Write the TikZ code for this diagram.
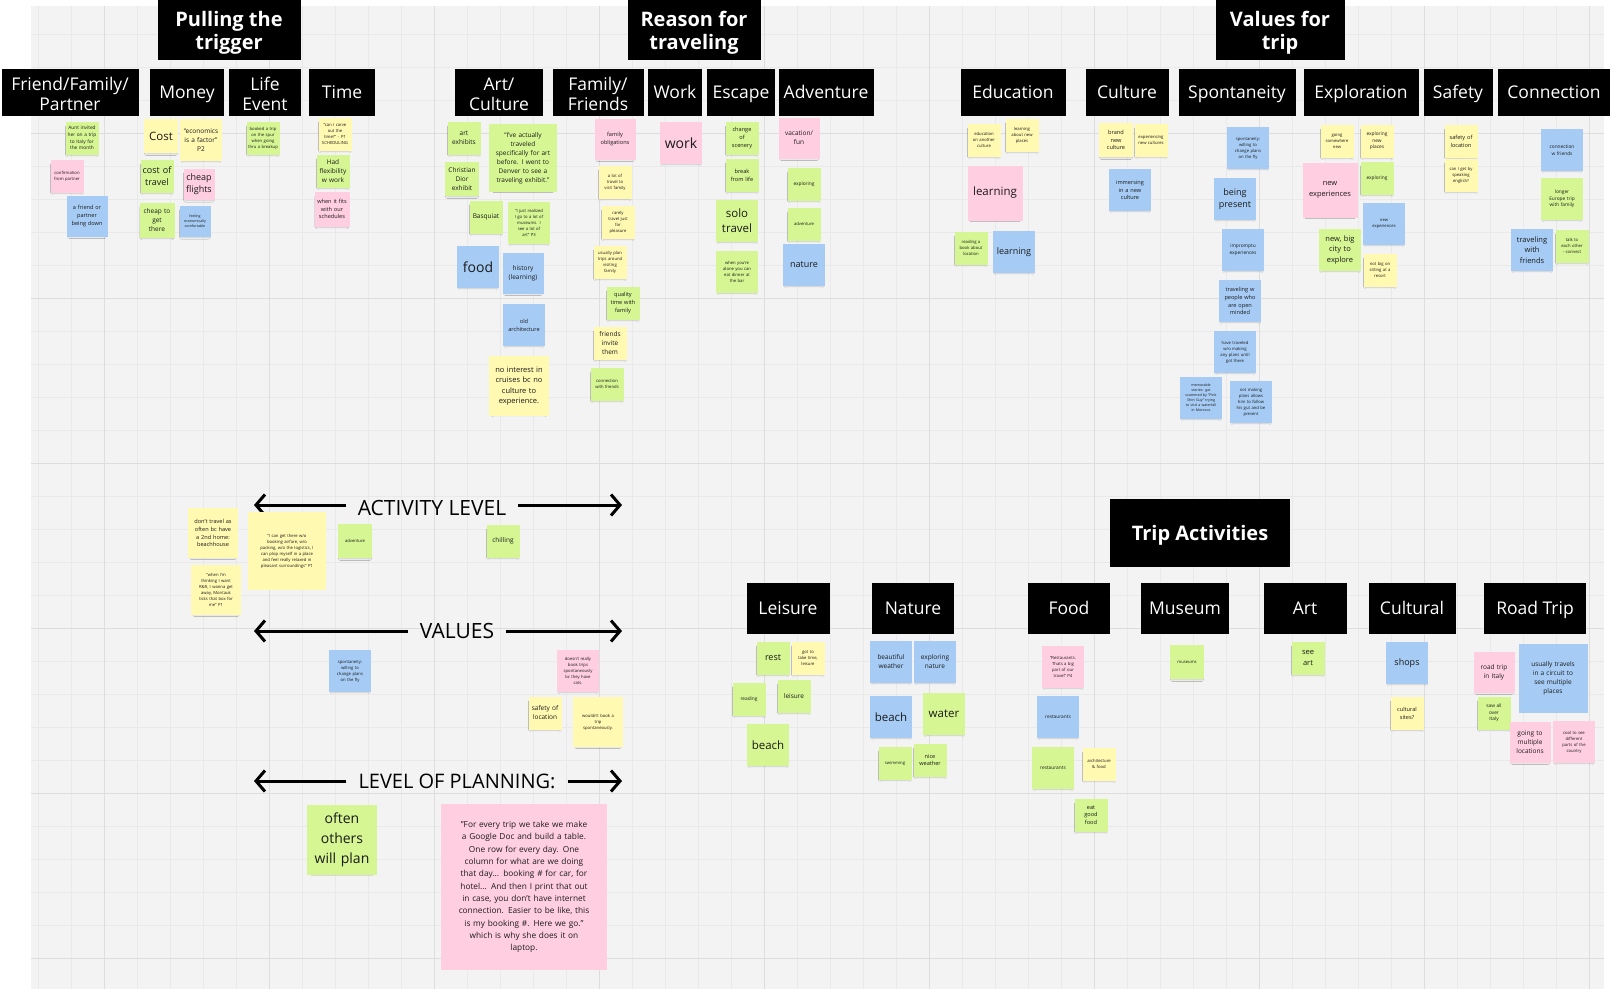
\documentclass[tikz,border=0pt]{standalone}
\usepackage{fontspec}
\setmainfont{Open Sans}
\usepackage{xcolor}
\usepackage{tikz}
\usetikzlibrary{arrows.meta, shadows.blur}
\definecolor{canvasbg}{HTML}{F3F3F3}
\definecolor{gridminor}{HTML}{E9E9E9}
\definecolor{gridmajor}{HTML}{DDDDDD}
\definecolor{stickyyellow}{HTML}{FFF9B1}
\definecolor{stickygreen}{HTML}{D5F692}
\definecolor{stickypink}{HTML}{FFCEE0}
\definecolor{stickyblue}{HTML}{A6CCF5}
\definecolor{stickytext}{HTML}{1A1A1A}
\hyphenpenalty=10000
\exhyphenpenalty=10000

\begin{document}
\begin{tikzpicture}[x=1pt, y=-1pt,
    grp/.style={rectangle, fill=black, text=white, align=center, inner sep=0pt, font=\fontsize{20}{23}\selectfont\bfseries,
        execute at begin node={\rule{0pt}{#1}}, execute at end node={\rule[-5.5pt]{0pt}{5.5pt}}},
    grp/.default=20pt,
    hdr/.style={rectangle, fill=black, text=white, align=center, inner sep=0pt, minimum height=47, font=\fontsize{17.5}{19.5}\selectfont,
        execute at begin node={\rule{0pt}{#1}}, execute at end node={\rule[-4.5pt]{0pt}{4.5pt}}},
    hdr/.default=18pt,
    note/.style={rectangle, inner sep=1pt, align=center, text=stickytext, blur shadow={shadow xshift=0pt, shadow yshift=-3pt, shadow scale=0.88, shadow blur radius=2pt, shadow opacity=18}},
    sq/.style={minimum width=#1, minimum height=#1, text width=#1-3},
    ny/.style={note, fill=stickyyellow},
    ng/.style={note, fill=stickygreen},
    np/.style={note, fill=stickypink},
    nb/.style={note, fill=stickyblue},
    t1/.style={font=\fontsize{3.6}{5}\selectfont},
    t2/.style={font=\fontsize{4.2}{6}\selectfont},
    t3/.style={font=\fontsize{4.8}{6.7}\selectfont},
    t4/.style={font=\fontsize{5.6}{7.8}\selectfont},
    t5/.style={font=\fontsize{6.5}{9}\selectfont},
    t6/.style={font=\fontsize{7.5}{10.5}\selectfont},
    t7/.style={font=\fontsize{9}{12.6}\selectfont},
    t8/.style={font=\fontsize{11.5}{15}\selectfont},
    t9/.style={font=\fontsize{14}{19}\selectfont},
    axis/.style={-{Straight Barb[length=9pt, width=21pt]}, line width=3pt, color=black},
    axislabel/.style={font=\fontsize{21}{24}\selectfont, inner xsep=12pt, inner ysep=2pt}
]
\useasboundingbox (0,0) rectangle (1612,989);
\fill[white] (0,0) rectangle (1612,989);
\fill[canvasbg] (31,6) rectangle (1604,989);
\foreach \gx in {38,71,...,1600} \draw[gridminor, line width=0.6pt] (\gx,6) -- (\gx,989);
\foreach \gy in {34,67,...,989} \draw[gridminor, line width=0.6pt] (31,\gy) -- (1604,\gy);
\foreach \gx in {104,269,...,1600} \draw[gridmajor, line width=0.9pt] (\gx,6) -- (\gx,989);
\foreach \gy in {133,298,...,989} \draw[gridmajor, line width=0.9pt] (31,\gy) -- (1604,\gy);

\node[grp=44.5pt, minimum width=143, minimum height=60] (trigger) at (229,30) {Pulling the\\trigger};
\node[grp=44.5pt, minimum width=133, minimum height=60] (reason) at (694,30) {Reason for\\traveling};
\node[grp=44.5pt, minimum width=129, minimum height=60] (values) at (1280,30) {Values for\\trip};
\node[grp, minimum width=180, minimum height=68] (activities) at (1200,533) {Trip Activities};

\node[hdr=41pt, minimum width=137] (friend) at (70,92) {Friend/Family/\\Partner};
\node[hdr, minimum width=74] (money) at (187,92) {Money};
\node[hdr=41pt, minimum width=72] (life) at (265,92) {Life\\Event};
\node[hdr, minimum width=66] (time) at (342,92) {Time};
\node[hdr=41pt, minimum width=88] (artcult) at (499,92) {Art/\\Culture};
\node[hdr=41pt, minimum width=91] (family) at (598,92) {Family/\\Friends};
\node[hdr, minimum width=54] (workh) at (675,92) {Work};
\node[hdr, minimum width=68] (escape) at (741,92) {Escape};
\node[hdr, minimum width=95] (adventure) at (826,92) {Adventure};
\node[hdr, minimum width=105] (education) at (1013,92) {Education};
\node[hdr, minimum width=83] (culture) at (1127,92) {Culture};
\node[hdr, minimum width=117] (spontaneity) at (1237,92) {Spontaneity};
\node[hdr, minimum width=115] (exploration) at (1361,92) {Exploration};
\node[hdr, minimum width=69] (safety) at (1458,92) {Safety};
\node[hdr, minimum width=112] (connection) at (1554,92) {Connection};

\node[hdr, minimum height=51, minimum width=83] (leisureh) at (788,608) {Leisure};
\node[hdr, minimum height=51, minimum width=82] (natureh) at (913,608) {Nature};
\node[hdr, minimum height=51, minimum width=82] (foodh) at (1069,608) {Food};
\node[hdr, minimum height=51, minimum width=88] (museumh) at (1185,608) {Museum};
\node[hdr, minimum height=51, minimum width=83] (arth) at (1305,608) {Art};
\node[hdr, minimum height=51, minimum width=87] (culturalh) at (1412,608) {Cultural};
\node[hdr, minimum height=51, minimum width=102] (roadtrip) at (1535,608) {Road Trip};

\node[ng, sq=33, t3] (aunt) at (82,138) {Aunt invited\\her on a trip\\to Italy for\\the month};
\node[np, sq=33, t2] (confirm) at (67,176) {confirmation\\from partner};
\node[nb, sq=41, t4] (friendown) at (87,216) {a friend or\\partner\\being down};
\node[ny, sq=34, t8] (cost) at (161,136) {Cost};
\node[ny, sq=42, t5] (econ) at (201,140) {“economics\\is a factor”\\P2};
\node[ng, sq=33, t7] (costtravel) at (157,176) {cost of\\travel};
\node[np, sq=31, t7] (cheapfl) at (199,184) {cheap\\flights};
\node[ng, sq=35, t5] (cheapget) at (157,220) {cheap to\\get\\there};
\node[nb, sq=31, t1] (feeling) at (195,221) {feeling\\economically\\comfortable};
\node[ng, sq=33, t2] (booked) at (263,138) {booked a trip\\on the spur\\when going\\thru a breakup};
\node[ny, sq=33, t2] (carve) at (335,134) {“can I carve\\out the\\time?” - P1\\SCHEDULING};
\node[ng, sq=33, t5] (flex) at (333,171) {Had\\flexibility\\w work};
\node[np, sq=35, t4] (fits) at (332,209) {when it fits\\with our\\schedules};

\node[ng, sq=33, t5] (artex) at (464,138) {art\\exhibits};
\node[ng, sq=68, t5] (denver) at (523,158) {“I've actually\\traveled\\specifically for art\\before. I went to\\Denver to see a\\traveling exhibit.”};
\node[ng, sq=34, t5] (dior) at (462,179) {Christian\\Dior\\exhibit};
\node[ng, sq=33, t5] (basq) at (486,217) {Basquiat};
\node[ng, sq=42, t2] (museumq) at (529,223) {“I just realized\\I go to a lot of\\museums. I\\see a lot of\\art” P3};
\node[nb, sq=42, t9] (food) at (478,267) {food};
\node[nb, sq=41, t5] (history) at (523,273) {history\\(learning)};
\node[nb, sq=42, t4] (oldarch) at (524,325) {old\\architecture};
\node[ny, sq=60, t6] (cruise) at (519,386) {no interest in\\cruises bc no\\culture to\\experience.};

\node[np, sq=41, t4] (famob) at (615,139) {family\\obligations};
\node[ny, sq=33, t2] (visitfam) at (615,182) {a lot of\\travel to\\visit family};
\node[ny, sq=33, t2] (rarely) at (618,222) {rarely\\travel just\\for\\pleasure};
\node[ny, sq=33, t2] (planfam) at (610,262) {usually plan\\trips around\\visiting\\family};
\node[ng, sq=33, t4] (quality) at (623,303) {quality\\time with\\family};
\node[ny, sq=33, t5] (invite) at (610,343) {friends\\invite\\them};
\node[ng, sq=33, t2] (connfr) at (607,384) {connection\\with friends};

\node[np, sq=42, t9] (work) at (681,143) {work};
\node[ng, sq=33, t4] (scenery) at (742,138) {change\\of\\scenery};
\node[ng, sq=33, t4] (breaklife) at (742,175) {break\\from life};
\node[ng, sq=42, t8] (solo) at (737,221) {solo\\travel};
\node[ng, sq=42, t2] (alone) at (737,272) {when you're\\alone you can\\eat dinner at\\the bar};
\node[np, sq=41, t5] (vacation) at (799,138) {vacation/\\fun};
\node[ng, sq=33, t3] (explor1) at (804,184) {exploring};
\node[ng, sq=33, t2] (advent1) at (804,224) {adventure};
\node[nb, sq=42, t7] (nature1) at (804,265) {nature};

\node[ny, sq=33, t2] (educult) at (984,140) {education\\on another\\culture};
\node[ny, sq=33, t2] (learnnew) at (1022,135) {learning\\about new\\places};
\node[np, sq=55, t8] (learnpk) at (995,193) {learning};
\node[ng, sq=33, t2] (readbook) at (971,248) {reading a\\book about\\location};
\node[nb, sq=42, t7] (learnbl) at (1014,252) {learning};
\node[ny, sq=34, t4] (brandnew) at (1116,140) {brand\\new\\culture};
\node[ny, sq=33, t2] (expcult) at (1151,140) {experiencing\\new cultures};
\node[nb, sq=42, t4] (immerse) at (1130,190) {immersing\\in a new\\culture};

\node[nb, sq=42, t2] (spont1) at (1248,148) {spontaneity:\\willing to\\change plans\\on the fly};
\node[nb, sq=42, t7] (present) at (1235,199) {being\\present};
\node[nb, sq=42, t3] (imprompt) at (1243,250) {impromptu\\experiences};
\node[nb, sq=42, t4] (openmind) at (1240,301) {traveling w\\people who\\are open\\minded};
\node[nb, sq=42, t2] (noplans) at (1235,352) {have traveled\\w/o making\\any plans until\\got there};
\node[nb, sq=42, t1] (scammed) at (1201,398) {memorable\\stories: got\\scammed by “Pink\\Shirt Guy” trying\\to visit a waterfall\\in Morocco};
\node[nb, sq=42, t2] (gut) at (1251,402) {not making\\plans allows\\him to follow\\his gut and be\\present};

\node[ny, sq=33, t2] (somenew) at (1337,141) {going\\somewhere\\new};
\node[ny, sq=33, t3] (explnew) at (1377,141) {exploring\\new\\places};
\node[np, sq=55, t6] (newexppk) at (1330,190) {new\\experiences};
\node[ng, sq=33, t3] (explor2) at (1377,178) {exploring};
\node[nb, sq=42, t2] (newexpbl) at (1384,224) {new\\experiences};
\node[ng, sq=42, t6] (bigcity) at (1340,250) {new, big\\city to\\explore};
\node[ny, sq=33, t2] (resort) at (1380,270) {not big on\\sitting at a\\resort};

\node[ny, sq=33, t4] (safety1) at (1461,141) {safety of\\location};
\node[ny, sq=33, t2] (english) at (1461,175) {can I get by\\speaking\\english?};
\node[nb, sq=42, t3] (connw) at (1562,150) {connection\\w friends};
\node[ng, sq=42, t3] (europe) at (1562,199) {longer\\Europe trip\\with family};
\node[nb, sq=42, t6] (travfr) at (1532,250) {traveling\\with\\friends};
\node[ng, sq=33, t2] (talk) at (1572,246) {talk to\\each other\\- connect};

\node[axislabel, text height=21pt] (actlvl) at (432,505) {ACTIVITY LEVEL};
\coordinate (actL) at (254,505);
\coordinate (actR) at (622,505);
\draw[axis] (actlvl) -- (actL);
\draw[axis] (actlvl) -- (actR);

\node[axislabel] (vallbl) at (457,631) {VALUES};
\coordinate (valL) at (254,631);
\coordinate (valR) at (622,631);
\draw[axis] (vallbl) -- (valL);
\draw[axis] (vallbl) -- (valR);

\node[axislabel, font=\fontsize{20}{24}\selectfont] (planlbl) at (457,781) {LEVEL OF PLANNING:};
\coordinate (planL) at (254,781);
\coordinate (planR) at (622,781);
\draw[axis] (planlbl) -- (planL);
\draw[axis] (planlbl) -- (planR);

\node[ny, sq=50, t4] (beachhouse) at (213,533) {don't travel as\\often bc have\\a 2nd home:\\beachhouse};
\node[ny, sq=50, t2] (montauk) at (216,590) {“when I'm\\thinking I want\\R\&R, I wanna get\\away, Montauk\\ticks that box for\\me” P1};
\node[ny, sq=78, t2] (plop) at (287,551) {“I can get there w/o\\booking airfare, w/o\\packing, w/o the logistics, I\\can plop myself in a place\\and feel really relaxed in\\pleasant surroundings” P1};
\node[ng, sq=34, t2] (advent2) at (355,541) {adventure};
\node[ng, sq=33, t5] (chill) at (503,541) {chilling};

\node[nb, sq=42, t2] (spont2) at (350,671) {spontaneity:\\willing to\\change plans\\on the fly};
\node[np, sq=42, t2] (cats) at (578,671) {doesn't really\\book trips\\spontaneously\\bc they have\\cats.};
\node[ny, sq=33, t5] (safety2) at (545,713) {safety of\\location};
\node[ny, sq=50, t2] (wouldnt) at (598,722) {wouldn't book a\\trip\\spontaneously.};

\node[ng, sq=70, font=\fontsize{14}{20}\selectfont] (others) at (342,840) {often\\others\\will plan};
\node[np, sq=166, font=\fontsize{8.3}{12.3}\selectfont] (gdoc) at (524,887) {"For every trip we take we make\\a Google Doc and build a table.\\One row for every day. One\\column for what are we doing\\that day... booking \# for car, for\\hotel... And then I print that out\\in case, you don't have internet\\connection. Easier to be like, this\\is my booking \#. Here we go."\\which is why she does it on\\laptop.};

\node[ng, sq=33, t7] (rest) at (773,658) {rest};
\node[ny, sq=33, t2] (taketime) at (808,658) {got to\\take time,\\leisure};
\node[ng, sq=33, t3] (reading) at (749,699) {reading};
\node[ng, sq=33, t5] (leisure) at (794,696) {leisure};
\node[ng, sq=42, t8] (beachg) at (768,745) {beach};

\node[nb, sq=42, t5] (weather) at (891,662) {beautiful\\weather};
\node[nb, sq=42, t5] (explnat) at (935,662) {exploring\\nature};
\node[nb, sq=42, t8] (beachb) at (891,717) {beach};
\node[ng, sq=42, t8] (water) at (944,714) {water};
\node[ng, sq=33, t2] (swim) at (895,763) {swimming};
\node[ng, sq=33, t4] (niceweather) at (930,760) {nice\\weather};

\node[np, sq=42, t2] (restquote) at (1063,667) {“Restaurants.\\Thats a big\\part of our\\travel” P4};
\node[nb, sq=42, t3] (restbl) at (1058,717) {restaurants};
\node[ng, sq=42, t3] (restgr) at (1053,768) {restaurants};
\node[ny, sq=33, t2] (archfood) at (1099,764) {architecture\\\& food};
\node[ng, sq=33, t4] (eatfood) at (1091,815) {eat\\good\\food};

\node[ng, sq=34, t2] (museums) at (1187,662) {museums};
\node[ng, sq=33, t6] (seeart) at (1308,658) {see\\art};
\node[nb, sq=42, t7] (shops) at (1407,663) {shops};
\node[ny, sq=33, t4] (sites) at (1407,713) {cultural\\sites?};

\node[np, sq=41, t5] (italy) at (1494,672) {road trip\\in Italy};
\node[nb, sq=69, t5] (circuit) at (1553,678) {usually travels\\in a circuit to\\see multiple\\places};
\node[ng, sq=33, t3] (sawitaly) at (1494,713) {saw all\\over\\Italy};
\node[np, sq=41, t5] (multiloc) at (1530,742) {going to\\multiple\\locations};
\node[np, sq=42, t2] (country) at (1574,742) {cool to see\\different\\parts of the\\country};

\end{tikzpicture}
\end{document}
